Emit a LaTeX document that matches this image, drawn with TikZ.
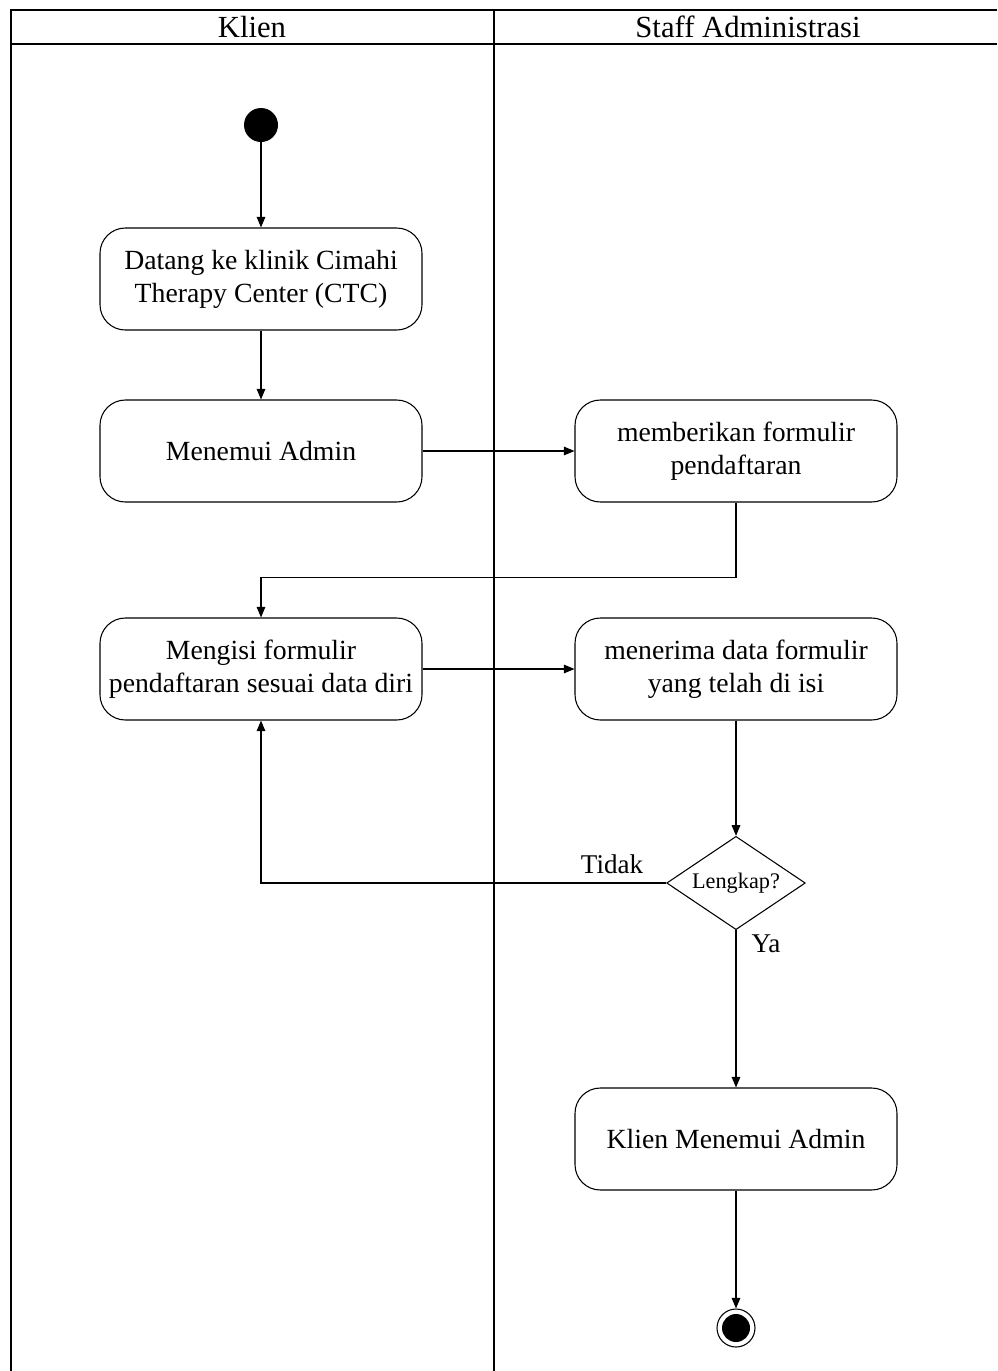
\documentclass[tikz,border=0pt]{standalone}
\usepackage{fontspec}
\setmainfont{Liberation Serif}
\usetikzlibrary{shapes.geometric,arrows.meta}
\begin{document}
\begin{tikzpicture}[x=0.75pt,y=-0.75pt,
  lane/.style={line width=1.3pt},
  act/.style={draw, line width=0.8pt, rounded corners=19pt, minimum width=241.5pt, minimum height=76.5pt, align=center, inner sep=2pt, font=\fontsize{20.8}{24.75}\selectfont},
  dec/.style={draw, line width=0.8pt, diamond, aspect=1.5, inner sep=0pt, minimum width=104pt, minimum height=70pt, font=\fontsize{16.7}{20}\selectfont},
  flow/.style={line width=0.8pt, -{Triangle[length=8pt,width=6.5pt]}},
  lbl/.style={font=\fontsize{20.3}{24}\selectfont, inner sep=0pt},
  hdr/.style={font=\fontsize{23}{27}\selectfont, inner sep=0pt}]
\useasboundingbox (0,0) rectangle (997,1371);
% swimlanes
\draw[lane] (11,1371) -- (11,10) -- (997,10);
\draw[lane] (11,44) -- (997,44);
\draw[lane] (494,10) -- (494,1371);
\node[hdr] (h1) at (252,27) {Klien};
\node[hdr] (h2) at (748,27) {Staff Administrasi};
% nodes
\node[circle, fill=black, inner sep=0pt, minimum size=25.5pt] (start) at (261,125) {};
\node[act] (a1) at (261,279) {Datang ke klinik Cimahi\\Therapy Center (CTC)};
\node[act] (a2) at (261,451) {Menemui Admin};
\node[act] (a3) at (736,451) {memberikan formulir\\pendaftaran};
\node[act] (a4) at (261,669) {Mengisi formulir\\pendaftaran sesuai data diri};
\node[act] (a5) at (736,669) {menerima data formulir\\yang telah di isi};
\node[dec] (d1) at (736,883) {Lengkap?};
\node[act] (a6) at (736,1139) {Klien Menemui Admin};
\node[circle, draw, line width=0.8pt, inner sep=0pt, minimum size=28.5pt] (endo) at (736,1328) {};
\node[circle, fill=black, inner sep=0pt, minimum size=21pt] (endi) at (endo) {};
% connectors
\draw[flow] (start) -- (a1);
\draw[flow] (a1) -- (a2);
\draw[flow] (a2) -- (a3);
\draw[flow] (a3.south) -- ++(0,75) -| (a4.north);
\draw[flow] (a4) -- (a5);
\draw[flow] (a5) -- (d1);
\draw[flow] (d1.west) -| (a4.south);
\draw[flow] (d1) -- (a6);
\draw[flow] (a6) -- (endo);
\node[lbl] (t1) at (612,864) {Tidak};
\node[lbl] (t2) at (766,944) {Ya};
\end{tikzpicture}
\end{document}
